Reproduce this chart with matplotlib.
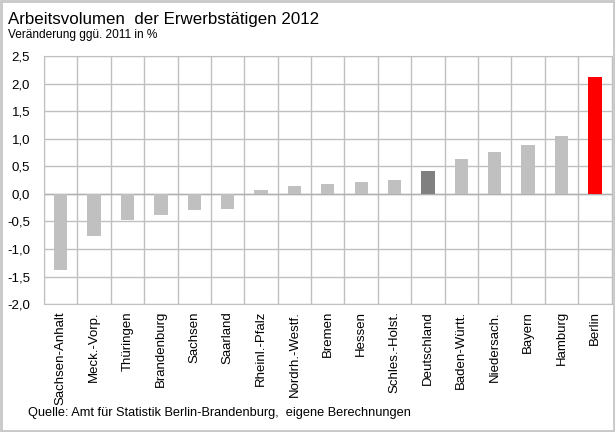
import numpy as np
import matplotlib
matplotlib.use("Agg")
import matplotlib.pyplot as plt
from matplotlib.patches import Rectangle

plt.rcParams['font.family'] = ['Liberation Sans', 'DejaVu Sans']

laender = ["Sachsen-Anhalt", "Meck.-Vorp.", "Thüringen", "Brandenburg", "Sachsen",
           "Saarland", "Rheinl.-Pfalz", "Nordrh.-Westf.", "Bremen", "Hessen",
           "Schles.-Holst.", "Deutschland", "Baden-Württ.", "Niedersach.", "Bayern",
           "Hamburg", "Berlin"]
werte = [-1.38, -0.76, -0.47, -0.38, -0.30, -0.27, 0.07, 0.15, 0.18, 0.21,
         0.25, 0.41, 0.63, 0.76, 0.89, 1.06, 2.12]
yticks = [-2.0, -1.5, -1.0, -0.5, 0.0, 0.5, 1.0, 1.5, 2.0, 2.5]

farben = []
for name in laender:
    if name == "Berlin":
        farben.append("#ff0000")
    elif name == "Deutschland":
        farben.append("#808080")
    else:
        farben.append("#c0c0c0")

fig = plt.figure(figsize=(6.15, 4.32), dpi=100)
ax = fig.add_axes([0.0715, 0.296, 0.923, 0.574])

x = np.arange(len(laender))
ax.bar(x, werte, width=0.4, color=farben, zorder=3)

ax.set_xlim(-0.5, len(laender) - 0.5)
ax.set_ylim(-2.0, 2.5)
ax.set_yticks(yticks)
ax.set_yticklabels([("%.1f" % v).replace(".", ",") for v in yticks], fontsize=9.5)
ax.set_xticks(x)
ax.set_xticklabels(laender, rotation=90, fontsize=9.5)
ax.set_xticks(np.arange(len(laender) + 1) - 0.5, minor=True)
ax.tick_params(axis="both", which="both", length=0)
ax.tick_params(axis="y", pad=10)
ax.tick_params(axis="x", pad=5)

ax.grid(True, axis="y", color="#c0c0c0", linewidth=1, zorder=0)
ax.grid(True, axis="x", which="minor", color="#c0c0c0", linewidth=1, zorder=0)
ax.grid(False, axis="x", which="major")
for s in ax.spines.values():
    s.set_color("#c0c0c0")
ax.axhline(0, color="#b0b0b0", linewidth=1, zorder=2)

fig.text(0.013, 0.955, "Arbeitsvolumen  der Erwerbstätigen 2012", fontsize=12.2, va="center")
fig.text(0.013, 0.918, "Veränderung ggü. 2011 in %", fontsize=8.6, va="center")
fig.text(0.045, 0.044, "Quelle: Amt für Statistik Berlin-Brandenburg,  eigene Berechnungen",
         fontsize=9.2, va="center")

fig.patches.append(Rectangle((0.002, 0.003), 0.996, 0.994, transform=fig.transFigure,
                             fill=False, edgecolor="#c8c8c8", linewidth=2))

fig.savefig("out.png", dpi=100)
